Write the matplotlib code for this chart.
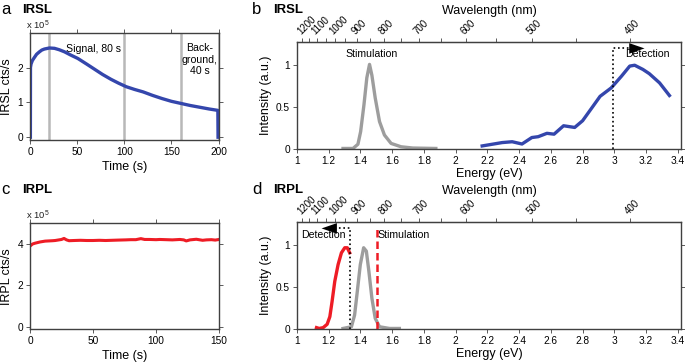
import matplotlib.pyplot as plt
import numpy as np

plt.rcParams['font.family'] = ['Liberation Sans', 'DejaVu Sans']
plt.rcParams['mathtext.fontset'] = 'custom'
plt.rcParams['mathtext.rm'] = 'Liberation Sans'

# panel a: IRSL decay curve (x 10^5 cts/s)
irsl_t = [0.4, 0.5, 1.1, 2.5, 4.7, 7, 10, 12.5, 15.3, 20.6, 26, 31, 36.6, 43,
          50.7, 60, 68.5, 77, 86, 94, 102, 111, 120, 130, 140, 150, 160, 170,
          180, 190, 199.3, 199.5]
irsl_v = [0, 2.0, 2.1, 2.2, 2.29, 2.38, 2.45, 2.5, 2.53, 2.56, 2.55, 2.51,
          2.45, 2.36, 2.26, 2.1, 1.95, 1.8, 1.66, 1.55, 1.45, 1.37, 1.3, 1.2,
          1.11, 1.03, 0.97, 0.91, 0.86, 0.81, 0.77, 0]
irsl_windows = [20, 100, 160, 200]

# panel c: IRPL signal (x 10^5 cts/s)
irpl_t = [0, 1, 2, 4, 6, 8, 10, 12, 15, 18, 20, 23, 25, 27, 29, 31, 35, 40, 45,
          50, 55, 60, 65, 70, 76, 80, 84, 88, 91, 95, 100, 103, 108, 113, 119,
          122, 124, 127, 132, 135, 137, 140, 144, 147, 150]
irpl_v = [3.9, 3.95, 4.0, 4.04, 4.07, 4.1, 4.12, 4.14, 4.15, 4.16, 4.17, 4.2,
          4.22, 4.27, 4.2, 4.16, 4.17, 4.18, 4.17, 4.17, 4.18, 4.17, 4.18,
          4.19, 4.2, 4.21, 4.21, 4.26, 4.22, 4.22, 4.21, 4.22, 4.21, 4.2,
          4.22, 4.2, 4.15, 4.2, 4.23, 4.2, 4.18, 4.2, 4.21, 4.19, 4.22]

# panel b: IRSL stimulation and emission spectra
b_stim_e = [1.29, 1.353, 1.384, 1.401, 1.422, 1.44, 1.457, 1.472, 1.493, 1.52,
            1.551, 1.593, 1.656, 1.73, 1.875]
b_stim_i = [0.01, 0.01, 0.06, 0.21, 0.53, 0.85, 1.01, 0.88, 0.61, 0.33, 0.17,
            0.07, 0.03, 0.015, 0.01]
b_emis_e = [2.167, 2.293, 2.356, 2.418, 2.48, 2.52, 2.575, 2.62, 2.68, 2.75,
            2.80, 2.857, 2.91, 2.98, 3.045, 3.097, 3.128, 3.18, 3.22, 3.285,
            3.347]
b_emis_i = [0.04, 0.08, 0.09, 0.063, 0.14, 0.15, 0.19, 0.18, 0.28, 0.26, 0.34,
            0.49, 0.63, 0.73, 0.87, 0.99, 1.0, 0.95, 0.9, 0.79, 0.64]
b_detect = 2.99

# panel d: IRPL emission and stimulation spectra
d_emis_e = [1.123, 1.14, 1.165, 1.19, 1.207, 1.221, 1.238, 1.259, 1.28, 1.301,
            1.317, 1.332]
d_emis_i = [0.02, 0.01, 0.02, 0.06, 0.15, 0.33, 0.57, 0.77, 0.91, 0.97, 0.97,
            0.91]
d_stim_e = [1.29, 1.343, 1.363, 1.38, 1.399, 1.42, 1.437, 1.453, 1.472, 1.493,
            1.52, 1.583, 1.645]
d_stim_i = [0.01, 0.03, 0.17, 0.45, 0.77, 0.97, 0.93, 0.69, 0.37, 0.13, 0.03,
            0.01, 0.01]
d_laser = 1.503
d_detect = 1.335

energy_ticks = [1.0, 1.2, 1.4, 1.6, 1.8, 2.0, 2.2, 2.4, 2.6, 2.8, 3.0, 3.2, 3.4]
wl_major = [1200, 1100, 1000, 900, 800, 700, 600, 500, 400]
wl_minor = [1150, 1050, 950, 850, 750, 650, 550, 450]

blue = '#3446ac'
red = '#ee1c25'
gray = '#9d9d9d'
spine_c = '#404040'

fig = plt.figure(figsize=(6.85, 3.62), dpi=100)


def style(ax):
    for s in ax.spines.values():
        s.set_color(spine_c)
        s.set_linewidth(1.0)
    ax.tick_params(axis='both', which='both', labelsize=7.3, length=3,
                   width=0.6, color=spine_c, pad=2)


def sci_label(ax):
    ax.text(-0.02, 1.01, r'x 10$^{5}$', transform=ax.transAxes, fontsize=6.8,
            ha='left', va='bottom', color='#202020')


# a
ax = fig.add_axes([30/685, 1-140/362, 189/685, 107/362])
for w in irsl_windows:
    ax.axvline(w, color='#b8b8b8', lw=1.8, zorder=1)
ax.plot(irsl_t, irsl_v, color=blue, lw=2.4, zorder=2, solid_joinstyle='round')
ax.set_xlim(0, 200.5)
ax.set_ylim(-0.08, 2.99)
ax.set_yticks([0, 1, 2])
ax.set_xticks([0, 50, 100, 150, 200])
ax.set_xlabel('Time (s)', fontsize=9, labelpad=3)
ax.set_ylabel('IRSL cts/s', fontsize=9, labelpad=3)
style(ax)
ax.tick_params(right=True, top=True)
ax.text(67, 2.53, 'Signal, 80 s', fontsize=7.6, ha='center', va='center')
ax.text(180, 2.22, 'Back-\nground,\n40 s', fontsize=7.6, ha='center',
        va='center', linespacing=1.2)
sci_label(ax)

# c
ax = fig.add_axes([30/685, 1-329/362, 189/685, 105.7/362])
ax.plot(irpl_t, irpl_v, color=red, lw=2.2, solid_joinstyle='round')
ax.set_xlim(0, 150)
ax.set_ylim(-0.1, 5.0)
ax.set_yticks([0, 2, 4])
ax.set_xticks([0, 50, 100, 150])
ax.set_xlabel('Time (s)', fontsize=9, labelpad=3)
ax.set_ylabel('IRPL cts/s', fontsize=9, labelpad=3)
style(ax)
ax.tick_params(right=True, top=True)
sci_label(ax)


def spectrum_axes(rect):
    ax = fig.add_axes(rect)
    ax.set_xlim(1, 3.42)
    ax.set_ylim(0, 1.28)
    ax.set_xticks(energy_ticks)
    ax.set_xticklabels(['%g' % v for v in energy_ticks])
    ax.set_yticks([0, 0.5, 1])
    ax.set_yticklabels(['0', '0.5', '1'])
    style(ax)
    ax.tick_params(axis='y', right=True)
    ax.set_xlabel('Energy (eV)', fontsize=9, labelpad=1)
    ax.set_ylabel('Intensity (a.u.)', fontsize=9, labelpad=3)
    sec = ax.secondary_xaxis('top', functions=(lambda e: 1239.84 / e,
                                               lambda w: 1239.84 / w))
    sec.set_xticks(wl_major)
    sec.set_xticks(wl_minor, minor=True)
    sec.set_xticklabels([str(w) for w in wl_major], rotation=45, ha='left',
                        va='bottom', rotation_mode='anchor')
    sec.tick_params(which='both', length=3, width=0.6, color=spine_c,
                    labelsize=7, pad=1)
    sec.spines['top'].set_color(spine_c)
    sec.set_xlabel('Wavelength (nm)', fontsize=9, labelpad=0)
    return ax


arrow_style = '-|>,head_length=1.1,head_width=0.38'

# b
ax = spectrum_axes([297/685, 1-149.3/362, 384/685, 107.6/362])
ax.plot(b_stim_e, b_stim_i, color=gray, lw=2.4, solid_joinstyle='round')
ax.plot(b_emis_e, b_emis_i, color=blue, lw=2.4, solid_joinstyle='round')
ax.plot([b_detect, b_detect, 3.11], [0, 1.2, 1.2], color='k', ls=':', lw=1.2)
ax.annotate('', xy=(3.19, 1.2), xytext=(3.1, 1.2),
            arrowprops=dict(arrowstyle=arrow_style, color='k', lw=0.01,
                            shrinkA=0, shrinkB=0))
ax.text(1.47, 1.07, 'Stimulation', fontsize=7.6, ha='center', va='bottom')
ax.text(3.21, 1.08, 'Detection', fontsize=7.6, ha='center', va='bottom')

# d
ax = spectrum_axes([297/685, 1-329.3/362, 384/685, 107.6/362])
ax.plot(d_stim_e, d_stim_i, color=gray, lw=2.4, solid_joinstyle='round')
ax.plot(d_emis_e, d_emis_i, color=red, lw=2.4, solid_joinstyle='round')
ax.plot([d_laser, d_laser], [0, 1.2], color=red, ls=(0, (3, 1.6)), lw=1.8)
ax.plot([d_detect, d_detect, 1.23], [0, 1.2, 1.2], color='k', ls=':', lw=1.2)
ax.annotate('', xy=(1.155, 1.2), xytext=(1.24, 1.2),
            arrowprops=dict(arrowstyle=arrow_style, color='k', lw=0.01,
                            shrinkA=0, shrinkB=0))
ax.text(1.165, 1.06, 'Detection', fontsize=7.6, ha='center', va='bottom')
ax.text(1.51, 1.06, 'Stimulation', fontsize=7.6, ha='left', va='bottom')

# panel labels
for x, y, letter, title in [(1, 10, 'a', 'IRSL'), (252, 10, 'b', 'IRSL'),
                            (1, 190, 'c', 'IRPL'), (252, 190, 'd', 'IRPL')]:
    fig.text(x/685, 1-y/362, letter, fontsize=12, va='center', ha='left')
    fig.text((x+21)/685, 1-y/362, title, fontsize=9.5, fontweight='bold',
             va='center', ha='left')

fig.savefig('out.png', dpi=100)
